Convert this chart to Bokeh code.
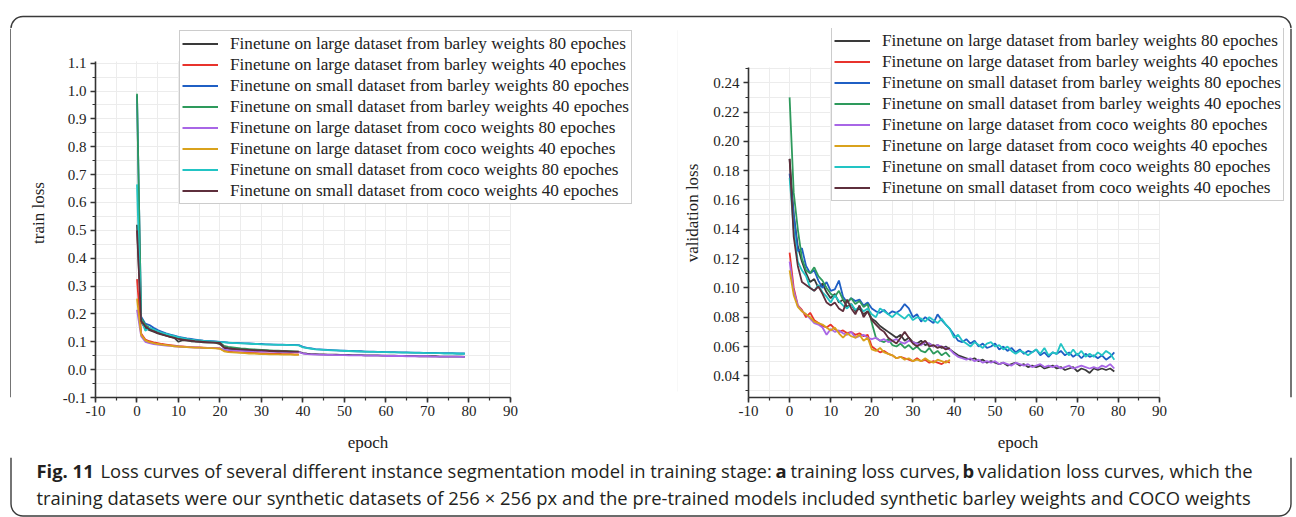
from bokeh.plotting import figure
from bokeh.models import (Range1d, Legend, LegendItem, SingleIntervalTicker,
                          PrintfTickFormatter, Grid)
from bokeh.layouts import column, row
from bokeh.embed import file_html
from bokeh.resources import INLINE
from bokeh.core.properties import value

# ---------------- data ----------------
labels = [
    "Finetune on large dataset from barley weights 80 epoches",
    "Finetune on large dataset from barley weights 40 epoches",
    "Finetune on small dataset from barley weights 80 epoches",
    "Finetune on small dataset from barley weights 40 epoches",
    "Finetune on large dataset from coco weights 80 epoches",
    "Finetune on large dataset from coco weights 40 epoches",
    "Finetune on small dataset from coco weights 80 epoches",
    "Finetune on small dataset from coco weights 40 epoches",
]
colors = ["#3a3a3a", "#e8332c", "#1f5fc4", "#2e9a5c", "#a866e6", "#d9a21c", "#22c4c4", "#5e2f3c"]

epochs80 = list(range(80))
epochs40 = list(range(40))

# train loss
train_large_barley_80 = [
    0.520, 0.170, 0.150, 0.142, 0.136, 0.130, 0.126, 0.122, 0.118, 0.114,
    0.100, 0.106, 0.104, 0.102, 0.101, 0.100, 0.098, 0.097, 0.098, 0.096,
    0.092, 0.078, 0.075, 0.074, 0.073, 0.072, 0.071, 0.070, 0.070, 0.069,
    0.068, 0.068, 0.067, 0.067, 0.066, 0.066, 0.065, 0.065, 0.065, 0.064,
    0.059, 0.057, 0.056, 0.056, 0.055, 0.055, 0.054, 0.054, 0.054, 0.053,
    0.053, 0.053, 0.052, 0.052, 0.052, 0.051, 0.051, 0.051, 0.051, 0.050,
    0.050, 0.050, 0.050, 0.049, 0.049, 0.049, 0.049, 0.049, 0.048, 0.048,
    0.048, 0.048, 0.048, 0.047, 0.047, 0.047, 0.047, 0.047, 0.047, 0.046]
train_large_barley_40 = [
    0.325, 0.130, 0.108, 0.102, 0.098, 0.095, 0.092, 0.090, 0.088, 0.086,
    0.084, 0.083, 0.082, 0.081, 0.080, 0.080, 0.079, 0.078, 0.078, 0.077,
    0.076, 0.068, 0.066, 0.064, 0.063, 0.062, 0.061, 0.060, 0.060, 0.059,
    0.058, 0.058, 0.057, 0.057, 0.057, 0.056, 0.056, 0.056, 0.055, 0.055]
train_small_barley_80 = [
    0.985, 0.190, 0.165, 0.160, 0.150, 0.142, 0.136, 0.130, 0.126, 0.122,
    0.118, 0.115, 0.112, 0.110, 0.108, 0.106, 0.104, 0.103, 0.102, 0.101,
    0.100, 0.099, 0.097, 0.096, 0.096, 0.095, 0.094, 0.094, 0.093, 0.092,
    0.092, 0.091, 0.091, 0.090, 0.090, 0.090, 0.089, 0.089, 0.089, 0.088,
    0.082, 0.078, 0.076, 0.074, 0.073, 0.072, 0.071, 0.070, 0.069, 0.068,
    0.068, 0.067, 0.067, 0.066, 0.066, 0.065, 0.065, 0.065, 0.064, 0.064,
    0.063, 0.063, 0.063, 0.062, 0.062, 0.062, 0.061, 0.061, 0.061, 0.060,
    0.060, 0.060, 0.060, 0.059, 0.059, 0.059, 0.059, 0.058, 0.058, 0.058]
train_small_barley_40 = [
    0.990, 0.185, 0.160, 0.150, 0.142, 0.136, 0.130, 0.125, 0.120, 0.116,
    0.112, 0.110, 0.108, 0.106, 0.104, 0.103, 0.102, 0.100, 0.099, 0.098,
    0.097, 0.085, 0.082, 0.080, 0.078, 0.076, 0.075, 0.074, 0.073, 0.072,
    0.071, 0.070, 0.069, 0.068, 0.068, 0.067, 0.066, 0.066, 0.065, 0.065]
train_large_coco_80 = [
    0.215, 0.120, 0.100, 0.095, 0.092, 0.090, 0.088, 0.086, 0.085, 0.084,
    0.083, 0.082, 0.081, 0.080, 0.080, 0.079, 0.078, 0.078, 0.077, 0.077,
    0.076, 0.072, 0.070, 0.069, 0.068, 0.068, 0.067, 0.067, 0.066, 0.066,
    0.065, 0.065, 0.065, 0.064, 0.064, 0.064, 0.064, 0.063, 0.063, 0.063,
    0.058, 0.056, 0.055, 0.054, 0.054, 0.053, 0.053, 0.053, 0.052, 0.052,
    0.052, 0.051, 0.051, 0.051, 0.051, 0.050, 0.050, 0.050, 0.050, 0.050,
    0.049, 0.049, 0.049, 0.049, 0.049, 0.048, 0.048, 0.048, 0.048, 0.048,
    0.048, 0.047, 0.047, 0.047, 0.047, 0.047, 0.047, 0.047, 0.046, 0.046]
train_large_coco_40 = [
    0.255, 0.125, 0.105, 0.099, 0.095, 0.092, 0.090, 0.088, 0.086, 0.084,
    0.083, 0.082, 0.081, 0.080, 0.079, 0.079, 0.078, 0.077, 0.077, 0.076,
    0.075, 0.066, 0.063, 0.062, 0.061, 0.060, 0.059, 0.058, 0.058, 0.057,
    0.056, 0.056, 0.055, 0.055, 0.055, 0.054, 0.054, 0.054, 0.053, 0.053]
train_small_coco_80 = [
    0.665, 0.180, 0.140, 0.150, 0.145, 0.138, 0.132, 0.128, 0.124, 0.120,
    0.116, 0.113, 0.110, 0.108, 0.106, 0.105, 0.103, 0.102, 0.101, 0.100,
    0.099, 0.098, 0.097, 0.096, 0.095, 0.094, 0.094, 0.093, 0.092, 0.092,
    0.091, 0.091, 0.090, 0.090, 0.089, 0.089, 0.089, 0.088, 0.088, 0.087,
    0.080, 0.077, 0.075, 0.073, 0.072, 0.071, 0.070, 0.069, 0.069, 0.068,
    0.067, 0.067, 0.066, 0.066, 0.065, 0.065, 0.064, 0.064, 0.064, 0.063,
    0.063, 0.062, 0.062, 0.062, 0.061, 0.061, 0.061, 0.060, 0.060, 0.060,
    0.059, 0.059, 0.059, 0.059, 0.058, 0.058, 0.058, 0.058, 0.057, 0.057]
train_small_coco_40 = [
    0.500, 0.175, 0.155, 0.145, 0.138, 0.132, 0.127, 0.122, 0.118, 0.114,
    0.110, 0.108, 0.106, 0.104, 0.102, 0.101, 0.100, 0.099, 0.098, 0.097,
    0.096, 0.080, 0.077, 0.075, 0.074, 0.073, 0.072, 0.071, 0.070, 0.069,
    0.069, 0.068, 0.067, 0.067, 0.066, 0.066, 0.066, 0.065, 0.065, 0.065]

# validation loss
val_large_barley_80 = [
    0.188, 0.150, 0.128, 0.118, 0.110, 0.104, 0.106, 0.100, 0.103, 0.097,
    0.093, 0.096, 0.090, 0.092, 0.087, 0.089, 0.084, 0.086, 0.082, 0.084,
    0.079, 0.077, 0.074, 0.072, 0.070, 0.068, 0.066, 0.068, 0.064, 0.066,
    0.063, 0.062, 0.064, 0.061, 0.062, 0.060, 0.061, 0.059, 0.060, 0.058,
    0.056, 0.054, 0.053, 0.052, 0.051, 0.052, 0.050, 0.051, 0.049, 0.050,
    0.049, 0.048, 0.049, 0.047, 0.048, 0.049, 0.047, 0.048, 0.046, 0.047,
    0.046, 0.047, 0.045, 0.046, 0.047, 0.045, 0.046, 0.044, 0.045, 0.046,
    0.043, 0.045, 0.044, 0.042, 0.045, 0.044, 0.045, 0.044, 0.045, 0.043]
val_large_barley_40 = [
    0.124, 0.100, 0.088, 0.085, 0.080, 0.083, 0.078, 0.076, 0.074, 0.073,
    0.075, 0.072, 0.070, 0.071, 0.069, 0.070, 0.068, 0.069, 0.067, 0.068,
    0.060, 0.058, 0.056, 0.057, 0.055, 0.054, 0.052, 0.053, 0.052, 0.051,
    0.050, 0.052, 0.050, 0.051, 0.049, 0.050, 0.049, 0.048, 0.050, 0.049]
val_small_barley_80 = [
    0.178, 0.150, 0.125, 0.127, 0.115, 0.110, 0.112, 0.105, 0.100, 0.104,
    0.098, 0.099, 0.105, 0.094, 0.090, 0.093, 0.091, 0.092, 0.088, 0.090,
    0.086, 0.084, 0.083, 0.085, 0.082, 0.084, 0.083, 0.085, 0.089, 0.086,
    0.080, 0.082, 0.077, 0.080, 0.078, 0.076, 0.082, 0.078, 0.075, 0.072,
    0.068, 0.064, 0.063, 0.065, 0.062, 0.064, 0.060, 0.062, 0.059, 0.060,
    0.062, 0.058, 0.060, 0.057, 0.059, 0.056, 0.058, 0.055, 0.057, 0.056,
    0.058, 0.054, 0.056, 0.053, 0.056, 0.055, 0.057, 0.054, 0.056, 0.053,
    0.055, 0.052, 0.055, 0.053, 0.054, 0.052, 0.054, 0.051, 0.053, 0.056]
val_small_barley_40 = [
    0.230, 0.165, 0.140, 0.120, 0.112, 0.110, 0.114, 0.108, 0.105, 0.100,
    0.096, 0.094, 0.098, 0.092, 0.090, 0.093, 0.089, 0.091, 0.087, 0.089,
    0.076, 0.066, 0.064, 0.063, 0.065, 0.061, 0.060, 0.062, 0.059, 0.061,
    0.058, 0.060, 0.057, 0.056, 0.059, 0.055, 0.057, 0.054, 0.056, 0.053]
val_large_coco_80 = [
    0.118, 0.098, 0.088, 0.084, 0.082, 0.079, 0.076, 0.075, 0.073, 0.068,
    0.072, 0.070, 0.071, 0.069, 0.068, 0.070, 0.066, 0.067, 0.068, 0.066,
    0.065, 0.066, 0.064, 0.065, 0.063, 0.064, 0.065, 0.063, 0.062, 0.064,
    0.063, 0.062, 0.061, 0.063, 0.062, 0.060, 0.061, 0.060, 0.059, 0.058,
    0.055, 0.053, 0.052, 0.051, 0.052, 0.050, 0.051, 0.049, 0.050, 0.049,
    0.050, 0.048, 0.049, 0.048, 0.047, 0.049, 0.048, 0.047, 0.048, 0.046,
    0.047, 0.048, 0.046, 0.047, 0.046, 0.047, 0.045, 0.046, 0.047, 0.045,
    0.046, 0.047, 0.046, 0.045, 0.046, 0.045, 0.047, 0.046, 0.048, 0.045]
val_large_coco_40 = [
    0.112, 0.095, 0.087, 0.084, 0.082, 0.080, 0.077, 0.076, 0.075, 0.073,
    0.071, 0.073, 0.069, 0.066, 0.069, 0.067, 0.066, 0.068, 0.064, 0.066,
    0.058, 0.057, 0.059, 0.056, 0.055, 0.054, 0.052, 0.053, 0.051, 0.052,
    0.050, 0.051, 0.050, 0.052, 0.050, 0.049, 0.051, 0.050, 0.049, 0.051]
val_small_coco_80 = [
    0.175, 0.140, 0.118, 0.112, 0.108, 0.100, 0.098, 0.102, 0.097, 0.094,
    0.090, 0.095, 0.091, 0.088, 0.086, 0.089, 0.085, 0.087, 0.084, 0.086,
    0.082, 0.080, 0.086, 0.084, 0.082, 0.080, 0.083, 0.081, 0.079, 0.082,
    0.078, 0.080, 0.079, 0.077, 0.080, 0.078, 0.076, 0.079, 0.075, 0.072,
    0.066, 0.068, 0.064, 0.062, 0.060, 0.063, 0.061, 0.059, 0.062, 0.063,
    0.060, 0.061, 0.058, 0.060, 0.057, 0.055, 0.057, 0.056, 0.054, 0.056,
    0.058, 0.055, 0.059, 0.054, 0.056, 0.055, 0.062, 0.057, 0.054, 0.058,
    0.054, 0.057, 0.053, 0.055, 0.053, 0.056, 0.054, 0.057, 0.055, 0.051]
val_small_coco_40 = [
    0.188, 0.135, 0.115, 0.104, 0.102, 0.100, 0.098, 0.101, 0.096, 0.090,
    0.088, 0.090, 0.086, 0.084, 0.092, 0.086, 0.082, 0.088, 0.080, 0.084,
    0.078, 0.075, 0.072, 0.070, 0.066, 0.064, 0.062, 0.066, 0.070, 0.066,
    0.062, 0.060, 0.062, 0.064, 0.060, 0.061, 0.059, 0.060, 0.058, 0.059]

train_series = [train_large_barley_80, train_large_barley_40, train_small_barley_80, train_small_barley_40,
                train_large_coco_80, train_large_coco_40, train_small_coco_80, train_small_coco_40]
val_series = [val_large_barley_80, val_large_barley_40, val_small_barley_80, val_small_barley_40,
              val_large_coco_80, val_large_coco_40, val_small_coco_80, val_small_coco_40]

caption_bold_1 = "Fig. 11"
caption_text_1 = "Loss curves of several different instance segmentation model in training stage:"
caption_bold_2 = "a"
caption_text_2 = "training loss curves,"
caption_bold_3 = "b"
caption_text_3 = "validation loss curves, which the"
caption_line_2 = ("training datasets were our synthetic datasets of 256 \u00d7 256 px and the "
                  "pre-trained models included synthetic barley weights and COCO weights")

SERIF = "Liberation Serif"
SANS = "Open Sans"
BORDER = "#3a3a3a"
HAS_CROSS = "cross_bounds" in Grid.properties()


def make_chart(series, x_end, y_start, y_end, y_top, y_interval, y_fmt, y_label,
               width, height, mb_left, mb_right, mb_bottom, legend_loc, y_label_standoff):
    p = figure(width=width, height=height, x_range=Range1d(-10, x_end),
               y_range=Range1d(y_start, y_end), toolbar_location=None,
               output_backend="svg", min_border_left=mb_left, min_border_right=mb_right,
               min_border_top=0, min_border_bottom=mb_bottom)
    p.outline_line_color = None
    p.background_fill_color = "white"
    p.border_fill_color = "white"

    p.xaxis.ticker = SingleIntervalTicker(interval=10, num_minor_ticks=2)
    p.yaxis.ticker = SingleIntervalTicker(interval=y_interval, num_minor_ticks=2)
    p.xaxis.formatter = PrintfTickFormatter(format="%d")
    p.yaxis.formatter = PrintfTickFormatter(format=y_fmt)
    p.xaxis.bounds = (-10, 90)
    p.yaxis.bounds = (y_start, y_top)
    for ax in (p.xaxis[0], p.yaxis[0]):
        ax.axis_line_color = "#333333"
        ax.axis_line_width = 1.6
        ax.major_tick_line_color = "#333333"
        ax.major_tick_line_width = 1.6
        ax.minor_tick_line_color = "#333333"
        ax.minor_tick_line_width = 1.2
        ax.major_tick_in = 0
        ax.major_tick_out = 5
        ax.minor_tick_in = 0
        ax.minor_tick_out = 3
        ax.major_label_text_font = SERIF
        ax.major_label_text_font_size = "15px"
        ax.major_label_text_color = "#222222"
        ax.axis_label_text_font = SERIF
        ax.axis_label_text_font_size = "17px"
        ax.axis_label_text_font_style = "normal"
        ax.axis_label_text_color = "#222222"
    p.xaxis.axis_label_standoff = 14
    p.yaxis.axis_label_standoff = y_label_standoff
    p.xaxis.major_label_standoff = 3
    p.yaxis.major_label_standoff = 4
    p.xaxis.axis_label = "epoch"
    p.yaxis.axis_label = y_label

    for g in (p.xgrid[0], p.ygrid[0]):
        g.grid_line_color = "#ececec"
        g.grid_line_width = 1
        g.minor_grid_line_color = "#ececec"
        g.minor_grid_line_width = 1
    p.xgrid.bounds = (-10, 90)
    p.ygrid.bounds = (y_start, y_top)
    if HAS_CROSS:
        p.xgrid[0].cross_bounds = (y_start, y_top)
        p.ygrid[0].cross_bounds = (-10, 90)

    items = []
    for lab, col, ys in zip(labels, colors, series):
        xs = epochs80 if len(ys) == 80 else epochs40
        r = p.line(xs, ys, line_color=col, line_width=1.8)
        items.append(LegendItem(label=lab, renderers=[r]))

    leg = Legend(items=items, location=legend_loc)
    leg.label_text_font = SERIF
    leg.label_text_font_size = "17.2px"
    leg.label_text_color = "#222222"
    leg.label_height = 21
    leg.glyph_height = 21
    leg.glyph_width = 36
    leg.label_standoff = 12
    leg.spacing = 0
    leg.padding = 2
    leg.margin = 0
    leg.border_line_color = "#9a9a9a"
    leg.border_line_width = 1
    leg.background_fill_color = "white"
    leg.background_fill_alpha = 1.0
    p.add_layout(leg, "center")
    return p


def blank(w, h):
    f = figure(width=w, height=h, x_range=Range1d(0, w), y_range=Range1d(0, h),
               toolbar_location=None, output_backend="svg", min_border=0)
    f.axis.visible = False
    f.grid.visible = False
    f.outline_line_color = None
    f.background_fill_color = "white"
    f.border_fill_color = "white"
    return f


ROW_H = 429
# page columns: left strip 0-11 | p1 11-677 | sep 677-678 | p2 678-1287 | right strip 1287-1296
p1 = make_chart(train_series, 121.33, -0.1, 1.2246, 1.107, 0.1, "%.1f", "train loss",
                666, ROW_H, 84, 37, 60, (84, 193), 12)
p2 = make_chart(val_series, 121.14, 0.02522, 0.27698, 0.2502, 0.02, "%.2f", "validation loss",
                609, ROW_H, 70, 0, 59, (83, 196), 8)

# border pieces (rounded frame around the whole figure)
W = 1296
R = 12
LX, RX = 10.5, 1290.5
TOP_H = 28
TY = 12.0          # top edge, measured up from the strip bottom
top = blank(W, TOP_H)
top.line([LX + R, RX - R], [TY, TY], line_color=BORDER, line_width=1.4)
top.arc(x=[LX + R], y=[TY - R], radius=R, start_angle=1.5708, end_angle=3.1416,
        line_color=BORDER, line_width=1.4)
top.arc(x=[RX - R], y=[TY - R], radius=R, start_angle=0.0, end_angle=1.5708,
        line_color=BORDER, line_width=1.4)

left = blank(11, ROW_H)
left.line([LX, LX], [0, ROW_H], line_color=BORDER, line_width=1.4)
sep = blank(1, ROW_H)
sep.line([0.5, 0.5], [7, 427], line_color="#e4e4e4", line_width=1)
right = blank(9, ROW_H)
right.line([RX - 1287, RX - 1287], [0, ROW_H], line_color=BORDER, line_width=1.4)

CH = 60
BY = 1.5
pc = blank(W, CH)
pc.line([LX, LX], [BY + R, CH], line_color=BORDER, line_width=1.4)
pc.line([RX, RX], [BY + R, CH], line_color=BORDER, line_width=1.4)
pc.line([LX + R, RX - R], [BY, BY], line_color=BORDER, line_width=1.4)
pc.arc(x=[LX + R], y=[BY + R], radius=R, start_angle=3.1416, end_angle=4.7124,
       line_color=BORDER, line_width=1.4)
pc.arc(x=[RX - R], y=[BY + R], radius=R, start_angle=4.7124, end_angle=6.2832,
       line_color=BORDER, line_width=1.4)

seg_text = [caption_bold_1, caption_text_1, caption_bold_2, caption_text_2,
            caption_bold_3, caption_text_3, caption_line_2]
seg_x = [36, 100, 775, 790, 962, 977, 36]
seg_y = [47, 47, 47, 47, 47, 47, 20]
seg_style = ["bold", "normal", "bold", "normal", "bold", "normal", "normal"]
for t, x, y, s in zip(seg_text, seg_x, seg_y, seg_style):
    pc.text(x=[x], y=[y], text=[t], text_font=value(SANS), text_font_size="18.4px",
            text_font_style=s, text_color="#231f20", text_baseline="middle", text_align="left")

layout = column(top, row(left, p1, sep, p2, right), pc)

open("out.html", "w").write(file_html(layout, INLINE))
